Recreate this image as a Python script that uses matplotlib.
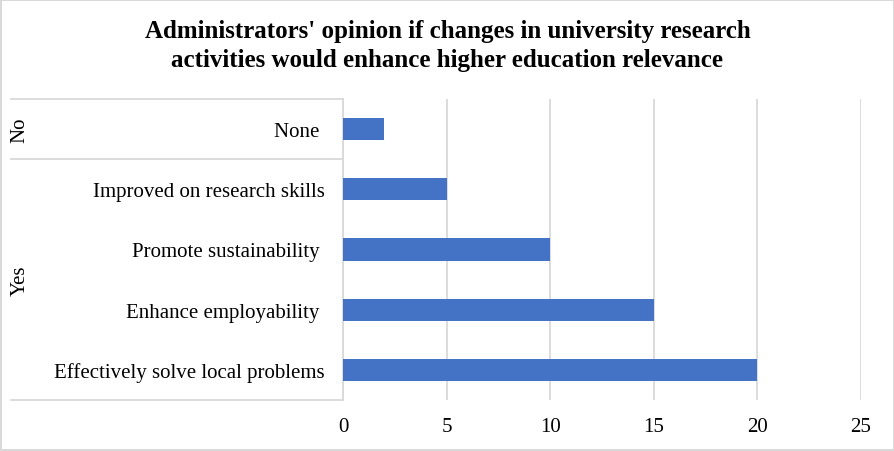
import numpy as np
import matplotlib.pyplot as plt

# data (bottom to top, as Excel draws them)
categories = [
    "Effectively solve local problems",
    "Enhance employability ",
    "Promote sustainability ",
    "Improved on research skills",
    "None ",
]
groups = ["Yes", "Yes", "Yes", "Yes", "No"]
values = [20, 15, 10, 5, 2]
x_ticks = [0, 5, 10, 15, 20, 25]

title = ("Administrators' opinion if changes in university research\n"
         "activities would enhance higher education relevance")

plt.rcParams["font.family"] = ["Liberation Serif", "DejaVu Serif"]

W, H = 895, 452
fig = plt.figure(figsize=(W / 100, H / 100), dpi=100,
                 edgecolor="#d9d9d9", linewidth=1.5)
left, right, top, bottom = 343, 861, 100, 401
ax = fig.add_axes([left / W, 1 - bottom / H, (right - left) / W, (bottom - top) / H])

y = np.arange(len(categories))
ax.barh(y, values, height=0.37, color="#4472C4", zorder=3)

ax.set_xlim(0, 25)
ax.set_ylim(-0.5, len(categories) - 0.5)
ax.set_xticks(x_ticks)
ax.set_xticklabels([str(t) for t in x_ticks], fontsize=15)
ax.set_yticks(y)
ax.set_yticklabels(categories, fontsize=15)
ax.tick_params(axis="y", length=0, pad=13)
ax.tick_params(axis="x", length=0, pad=12.5)
ax.grid(axis="x", color="#d9d9d9", linewidth=1.3, zorder=0)

for s in ["top", "right", "bottom"]:
    ax.spines[s].set_visible(False)
ax.spines["left"].set_color("#d9d9d9")
ax.spines["left"].set_linewidth(1.3)

# multi-level category axis lines
x0 = (11 - left) / (right - left)
bounds = [-0.5]
for i in range(1, len(groups)):
    if groups[i] != groups[i - 1]:
        bounds.append(i - 0.5)
bounds.append(len(groups) - 0.5)
trans = ax.get_yaxis_transform()
for b in bounds:
    ax.plot([x0, 0], [b, b], color="#d9d9d9", linewidth=1.3,
            transform=trans, clip_on=False)

# group labels
xg = (20 - left) / (right - left)
for g in dict.fromkeys(groups):
    idx = [i for i, gg in enumerate(groups) if gg == g]
    yc = (min(idx) + max(idx)) / 2
    ax.text(xg, yc, g, rotation=90, ha="center", va="center",
            fontsize=15, transform=trans)

fig.text(0.5, 1 - 46 / H, title, ha="center", va="center",
         fontsize=18, fontweight="bold", linespacing=1.38)

fig.savefig("out.png", dpi=100)
